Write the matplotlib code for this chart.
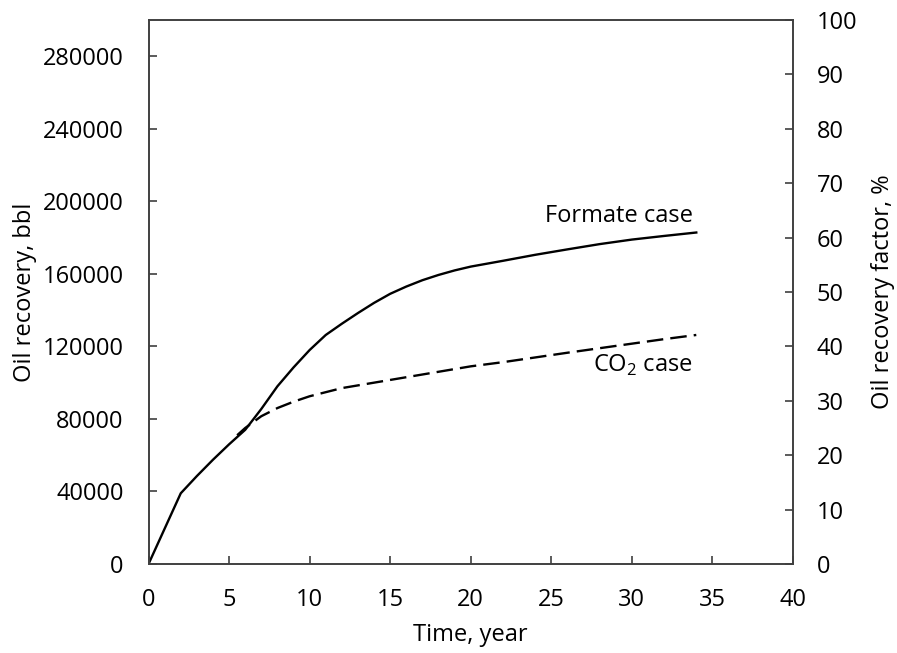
import matplotlib
matplotlib.use("Agg")
import matplotlib.pyplot as plt

plt.rcParams['font.family'] = ['Open Sans', 'DejaVu Sans']
plt.rcParams['mathtext.fontset'] = 'custom'
plt.rcParams['mathtext.rm'] = 'Open Sans'

# Cumulative oil recovery (bbl) versus time (years)
formate_years = [0, 1, 2, 3, 4, 5, 6, 7, 8, 9, 10, 11, 12, 13, 14, 15, 16, 17,
                 18, 19, 20, 22, 24, 26, 28, 30, 32, 34]
formate_oil = [0, 19500, 39000, 48500, 57500, 66000, 74000, 85500, 98000,
               108400, 118000, 126300, 132500, 138400, 144000, 149000, 153000,
               156500, 159400, 161900, 164000, 167200, 170500, 173500, 176400,
               178900, 180900, 182800]

co2_years = [5.5, 6, 7, 8, 9, 10, 12, 14, 16, 18, 20, 22, 24, 26, 28, 30, 32, 34]
co2_oil = [71000, 75000, 81500, 86000, 89500, 92500, 97000, 100000, 103000,
           106000, 109000, 111300, 113900, 116500, 119000, 121500, 124000, 126300]

left_ticks = [0, 40000, 80000, 120000, 160000, 200000, 240000, 280000]
right_ticks = [0, 10, 20, 30, 40, 50, 60, 70, 80, 90, 100]
x_ticks = [0, 5, 10, 15, 20, 25, 30, 35, 40]

fig = plt.figure(figsize=(8.97, 6.53), dpi=100)
ax = fig.add_axes([0.1656, 0.1363, 0.884 - 0.1656, 0.9694 - 0.1363])

ax.plot(formate_years, formate_oil, color='black', lw=1.7, solid_joinstyle='round')
ax.plot(co2_years, co2_oil, color='black', lw=1.7, dashes=(7.0, 3.0))

ax.set_xlim(0, 40)
ax.set_ylim(0, 300000)
ax.set_xticks(x_ticks)
ax.set_yticks(left_ticks)
ax.set_yticklabels([str(v) for v in left_ticks])

ax2 = ax.twinx()
ax2.set_ylim(0, 100)
ax2.set_yticks(right_ticks)

spine_color = '#404040'
for a in (ax, ax2):
    for s in a.spines.values():
        s.set_color(spine_color)
        s.set_linewidth(1.2)
    a.tick_params(direction='in', length=6, width=1.2, color=spine_color,
                  labelsize=17, labelcolor='black')

ax.tick_params(axis='y', pad=18)
ax.tick_params(axis='x', pad=17)
ax2.tick_params(axis='y', pad=17)

ax.set_xlabel('Time, year', fontsize=17, labelpad=8)
ax.set_ylabel('Oil recovery, bbl', fontsize=17, labelpad=4)
ax2.set_ylabel('Oil recovery factor, %', fontsize=17, labelpad=10)

ax.text(33.8, 185500, 'Formate case', fontsize=17, ha='right', va='bottom')
ax.text(33.8, 116300, r'CO$_\mathrm{2}$ case', fontsize=17, ha='right', va='top')

fig.savefig('out.png', dpi=100)
